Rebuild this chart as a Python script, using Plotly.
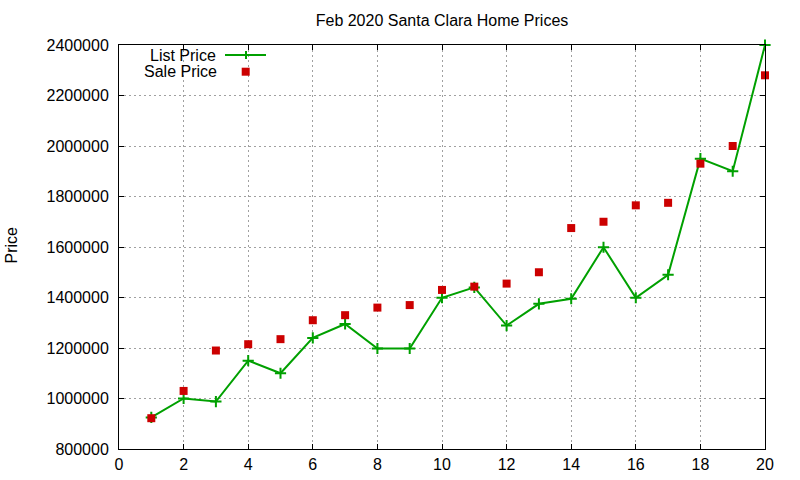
import plotly.graph_objects as go

months = list(range(1, 21))
list_price = [925000, 1000000, 988000, 1150000, 1100000, 1240000, 1295000, 1198000,
              1198000, 1399000, 1440000, 1289000, 1375000, 1395000, 1599000, 1399000,
              1490000, 1950000, 1900000, 2400000]
sale_price = [922000, 1030000, 1190000, 1215000, 1235000, 1310000, 1330000, 1360000,
              1370000, 1430000, 1443000, 1455000, 1500000, 1675000, 1700000, 1765000,
              1775000, 1930000, 2000000, 2280000]
series_names = ["List Price", "Sale Price"]
title_text = "Feb 2020 Santa Clara Home Prices"
y_label = "Price"

GREEN = "#00a000"
RED = "#cc0000"
FONT = "Liberation Sans, Arial, sans-serif"

# plot-area geometry (pixels)
L, R, T, B = 119, 765, 45, 449
W, H = R - L, B - T


def px(xp):
    return (xp - L) / W


def py(yp):
    return (B - yp) / H


fig = go.Figure()
fig.add_trace(go.Scatter(
    x=months, y=list_price, name=series_names[0], mode="lines+markers",
    line=dict(color=GREEN, width=2),
    marker=dict(symbol="cross-thin", size=8, line=dict(color=GREEN, width=2), color=GREEN),
    cliponaxis=False, showlegend=False,
))
fig.add_trace(go.Scatter(
    x=months, y=sale_price, name=series_names[1], mode="markers",
    marker=dict(symbol="square", size=8, color=RED, line=dict(width=0)),
    cliponaxis=False, showlegend=False,
))

axis_common = dict(
    showline=True, linecolor="black", linewidth=1, mirror="allticks",
    ticks="inside", ticklen=5, tickwidth=1, tickcolor="black",
    showgrid=True, gridcolor="#a0a0a0", gridwidth=1, griddash="2px,3px",
    zeroline=False, automargin=False,
    tickfont=dict(family=FONT, size=16, color="black"),
)

fig.update_xaxes(range=[0, 20], dtick=2, tick0=0, ticklabelstandoff=1, **axis_common)
fig.update_yaxes(range=[800000, 2400000], dtick=200000, tick0=800000,
                 tickformat="d", ticklabelstandoff=6, **axis_common)

annotations = [
    dict(text=y_label, xref="paper", yref="paper", x=px(11), y=py(245.5),
         textangle=-90, showarrow=False, xanchor="center", yanchor="middle",
         font=dict(family=FONT, size=16, color="black")),
    dict(text=series_names[0], xref="paper", yref="paper", x=px(217), y=py(55),
         showarrow=False, xanchor="right", yanchor="middle", height=14, borderpad=0,
         font=dict(family=FONT, size=16, color="black")),
    dict(text=series_names[1], xref="paper", yref="paper", x=px(218), y=py(71),
         showarrow=False, xanchor="right", yanchor="middle", height=14, borderpad=0,
         font=dict(family=FONT, size=16, color="black")),
]

shapes = [
    dict(type="line", xref="paper", yref="paper", x0=px(225), x1=px(266),
         y0=py(55), y1=py(55), line=dict(color=GREEN, width=2)),
    dict(type="line", xref="paper", yref="paper", x0=px(246), x1=px(246),
         y0=py(51), y1=py(59), line=dict(color=GREEN, width=2)),
    dict(type="rect", xref="paper", yref="paper", x0=px(241.7), x1=px(249.7),
         y0=py(75.7), y1=py(67.7), line=dict(width=0), fillcolor=RED),
]

fig.update_layout(
    width=800, height=480,
    margin=dict(l=L, r=800 - R, t=T, b=480 - B, autoexpand=False),
    paper_bgcolor="white", plot_bgcolor="white",
    title=dict(text=title_text, x=0.5, xref="paper", y=1 - 20.5 / 480,
               yref="container", xanchor="center", yanchor="middle",
               font=dict(family=FONT, size=16, color="black")),
    annotations=annotations, shapes=shapes, showlegend=False,
)

fig.write_html("out.html", config={"displayModeBar": False},
               post_script="document.body.style.margin='0';document.body.style.overflow='hidden';")
